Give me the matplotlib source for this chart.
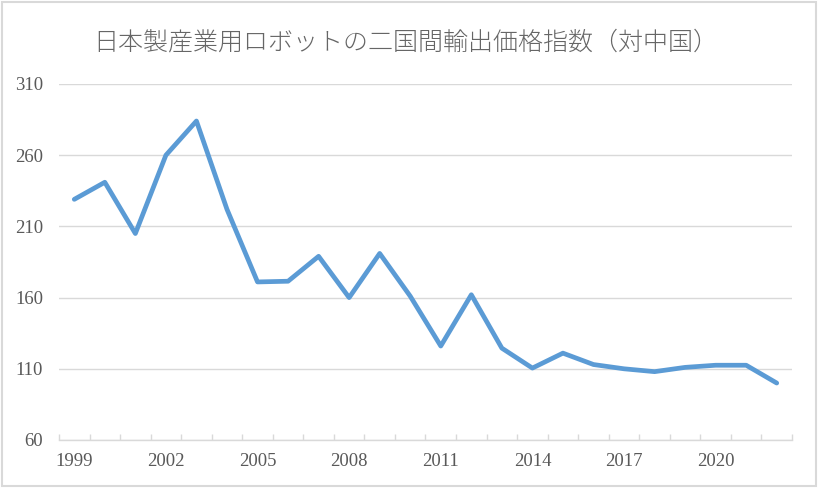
import numpy as np
import matplotlib
matplotlib.use("Agg")
import matplotlib.pyplot as plt
from matplotlib.patches import Rectangle

# Data #
years = list(range(1999, 2023))
index_values = [229, 241, 205, 260, 284, 222, 171, 171.5, 189, 160, 191, 161,
                126, 162, 124.5, 110.5, 121, 113, 110, 108, 111, 112.5, 112.5, 100]
y_ticks = [60, 110, 160, 210, 260, 310]
title = "日本製産業用ロボットの二国間輸出価格指数（対中国）"

TEXT_COLOR = "#595959"
GRID_COLOR = "#d9d9d9"
LINE_COLOR = "#5b9bd5"

# Plotting #
fig = plt.figure(figsize=(8.18, 4.88), dpi=100)
ax = fig.add_axes([59 / 818, 48 / 488, 733 / 818, 356 / 488])

x = np.arange(len(years))
ax.plot(x, index_values, color=LINE_COLOR, lw=3.4,
        solid_joinstyle="round", solid_capstyle="round", zorder=3)

ax.set_xlim(-0.5, len(years) - 0.5)
ax.set_ylim(60, 310)
ax.set_yticks(y_ticks)
ax.yaxis.grid(True, color=GRID_COLOR, lw=1.0)
ax.set_axisbelow(True)

ax.set_xticks(x[::3])
ax.set_xticklabels([str(y) for y in years[::3]])
ax.set_xticks(np.arange(-0.5, len(years), 1), minor=True)
ax.tick_params(axis="x", which="major", length=0, pad=9)
ax.tick_params(axis="x", which="minor", direction="in", length=4,
               width=1.0, color=GRID_COLOR)
ax.tick_params(axis="y", length=0, pad=11.5)

for lab in ax.get_xticklabels() + ax.get_yticklabels():
    lab.set_family("Liberation Serif")
    lab.set_fontsize(13.5)
    lab.set_color(TEXT_COLOR)

for side in ["top", "right", "left"]:
    ax.spines[side].set_visible(False)
ax.spines["bottom"].set_color(GRID_COLOR)
ax.spines["bottom"].set_linewidth(1.0)

fig.text(406 / 818, 1 - 42 / 488, title, ha="center", va="center",
         fontsize=18, color="#666666", fontweight="light",
         family=["Noto Sans CJK JP", "DejaVu Sans"])

fig.patches.append(Rectangle((1.5 / 818, 2 / 488), 814 / 818, 484 / 488,
                             transform=fig.transFigure, fill=False,
                             edgecolor=GRID_COLOR, lw=1.5))

fig.savefig("out.png", dpi=100)
